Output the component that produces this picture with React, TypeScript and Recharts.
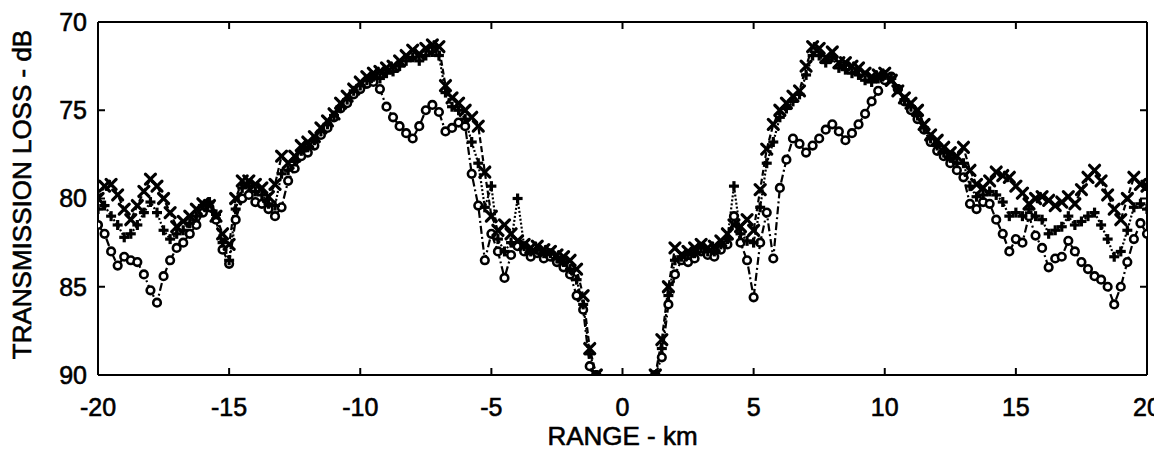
import React from 'react';
import { LineChart, Line, XAxis, YAxis, ReferenceLine } from 'recharts';

// Range grid (km), 0.25 km spacing
const rangeKm = [
  -20, -19.75, -19.5, -19.25, -19, -18.75, -18.5, -18.25, -18, -17.75, -17.5, -17.25,
  -17, -16.75, -16.5, -16.25, -16, -15.75, -15.5, -15.25, -15, -14.75, -14.5, -14.25,
  -14, -13.75, -13.5, -13.25, -13, -12.75, -12.5, -12.25, -12, -11.75, -11.5, -11.25,
  -11, -10.75, -10.5, -10.25, -10, -9.75, -9.5, -9.25, -9, -8.75, -8.5, -8.25,
  -8, -7.75, -7.5, -7.25, -7, -6.75, -6.5, -6.25, -6, -5.75, -5.5, -5.25,
  -5, -4.75, -4.5, -4.25, -4, -3.75, -3.5, -3.25, -3, -2.75, -2.5, -2.25,
  -2, -1.75, -1.5, -1.25, -1, -0.75, -0.5, -0.25, 0, 0.25, 0.5, 0.75,
  1, 1.25, 1.5, 1.75, 2, 2.25, 2.5, 2.75, 3, 3.25, 3.5, 3.75,
  4, 4.25, 4.5, 4.75, 5, 5.25, 5.5, 5.75, 6, 6.25, 6.5, 6.75,
  7, 7.25, 7.5, 7.75, 8, 8.25, 8.5, 8.75, 9, 9.25, 9.5, 9.75,
  10, 10.25, 10.5, 10.75, 11, 11.25, 11.5, 11.75, 12, 12.25, 12.5, 12.75,
  13, 13.25, 13.5, 13.75, 14, 14.25, 14.5, 14.75, 15, 15.25, 15.5, 15.75,
  16, 16.25, 16.5, 16.75, 17, 17.25, 17.5, 17.75, 18, 18.25, 18.5, 18.75,
  19, 19.25, 19.5, 19.75, 20,
];

// Transmission loss (dB), "x" markers
const lossX = [
  80.0, 79.3, 79.2, 79.8, 80.6, 81.2, 80.4, 79.6, 78.9, 79.3, 80.0, 80.8,
  81.6, 81.3, 81.0, 80.6, 80.3, 80.4, 81.0, 82.0, 82.6, 80.0, 79.0, 79.0,
  79.2, 79.4, 79.9, 79.2, 77.6, 78.0, 77.6, 77.0, 76.8, 76.5, 76.0, 75.6,
  75.2, 74.6, 74.2, 73.8, 73.4, 73.1, 72.9, 72.8, 72.6, 72.5, 72.2, 71.9,
  71.6, 71.8, 71.5, 71.3, 71.4, 73.6, 74.3, 74.6, 75.0, 75.4, 75.9, 78.5,
  81.0, 81.8, 81.5, 82.0, 82.4, 82.6, 82.8, 82.7, 82.9, 83.0, 83.2, 83.3,
  83.5, 84.0, 85.5, 88.5, 90, null, null, null, null, null, null, null,
  null, 90, 88.0, 85.0, 82.8, 83.2, 83.0, 82.8, 82.6, 82.8, 82.7, 82.4,
  82.0, 81.5, 81.6, 81.2, 81.8, 79.5, 77.2, 75.8, 75.0, 74.6, 74.2, 73.9,
  72.5, 71.4, 71.5, 72.0, 71.7, 72.3, 72.3, 72.5, 72.6, 72.9, 73.1, 73.0,
  72.9, 73.3, 73.9, 74.3, 74.6, 75.0, 75.8, 76.4, 76.7, 77.1, 77.4, 77.6,
  77.1, 78.4, 79.2, 79.4, 79.0, 78.5, 78.7, 78.8, 79.3, 79.7, 80.3, 80.0,
  79.9, 80.1, 80.4, 80.2, 79.9, 80.3, 79.5, 78.8, 78.4, 79.0, 79.8, 80.6,
  81.2, 80.0, 78.8, 79.2, 79.3,
];

// Transmission loss (dB), "o" markers
const lossO = [
  81.5, 82.0, 83.0, 83.8, 83.3, 83.5, 83.6, 84.3, 85.2, 85.9, 84.4, 83.5,
  82.8, 82.5, 82.0, 81.5, 80.8, 80.5, 81.2, 82.9, 83.7, 81.2, 80.0, 79.8,
  80.2, 80.3, 80.6, 81.0, 80.5, 79.0, 78.3, 77.6, 77.4, 77.0, 76.4, 76.0,
  75.4, 74.9, 74.6, 74.1, 73.8, 73.5, 73.4, 73.8, 74.8, 75.4, 75.9, 76.3,
  76.6, 75.9, 75.0, 74.7, 75.1, 76.2, 76.0, 75.7, 75.9, 78.6, 80.4, 83.5,
  82.0, 83.0, 84.5, 83.2, 82.7, 83.0, 83.3, 83.1, 83.4, 83.3, 83.6, 83.9,
  84.3, 85.5, 86.3, 89.5, 90, null, null, null, null, null, null, null,
  null, 90, 89.0, 86.0, 84.3, 83.5, 83.6, 83.4, 83.0, 83.2, 83.3, 82.9,
  82.6, 81.0, 82.5, 83.5, 85.6, 82.5, 80.8, 83.4, 79.4, 77.8, 76.6, 76.9,
  77.4, 77.0, 76.6, 76.1, 75.8, 76.2, 76.7, 76.3, 75.8, 75.2, 74.5, 73.9,
  73.3, 73.1, 73.8, 74.5, 75.0, 75.5, 76.1, 76.8, 77.3, 77.6, 78.0, 78.4,
  78.8, 80.3, 80.6, 80.2, 80.3, 81.2, 82.0, 83.0, 82.3, 82.5, 81.0, 82.1,
  82.8, 83.9, 83.4, 83.3, 82.4, 83.0, 83.6, 84.0, 84.4, 84.6, 85.0, 86.0,
  85.0, 83.6, 82.3, 81.4, 82.0,
];

// Transmission loss (dB), "+" markers
const lossPlus = [
  80.6, 80.4, 81.0, 81.5, 82.2, 82.0, 81.5, 80.8, 80.2, 80.8, 81.8, 82.3,
  82.0, 81.8, 81.4, 81.0, 80.4, 80.2, 80.9, 82.5, 83.5, 80.6, 79.4, 79.3,
  79.6, 79.8, 80.3, 80.4, 78.6, 78.4, 77.9, 77.3, 77.1, 76.7, 76.2, 75.8,
  75.3, 74.8, 74.4, 73.9, 73.6, 73.3, 73.1, 73.2, 72.9, 72.8, 72.5, 72.2,
  72.0, 72.2, 71.9, 71.7, 71.9, 74.0, 74.8, 75.0, 75.5, 76.8, 78.0, 80.5,
  79.3, 82.3, 83.0, 82.5, 80.0, 82.7, 83.0, 82.9, 83.1, 83.1, 83.4, 83.6,
  84.0, 84.6, 86.0, 88.8, 90, null, null, null, null, null, null, null,
  null, 90, 88.5, 85.5, 83.5, 83.3, 83.2, 83.1, 82.8, 83.0, 83.0, 82.6,
  82.3, 79.3, 82.0, 82.4, 82.5, 80.5, 78.0, 76.8, 75.4, 74.9, 74.5, 74.1,
  73.0, 71.9, 71.9, 72.3, 72.0, 72.6, 72.7, 72.9, 73.0, 73.3, 73.4, 73.2,
  73.0, 73.2, 73.8, 74.4, 74.8, 75.3, 76.0, 76.6, 77.0, 77.4, 77.7, 78.0,
  78.0, 79.3, 79.9, 79.8, 79.6, 79.8, 80.2, 81.0, 80.8, 81.0, 80.6, 81.0,
  81.2, 82.0, 81.8, 81.6, 81.0, 81.5, 81.3, 81.0, 80.8, 81.5, 82.3, 83.3,
  83.0, 81.8, 80.5, 80.3, 80.6,
];

const xTicks = [-20, -15, -10, -5, 0, 5, 10, 15, 20];
const yTicks = [70, 75, 80, 85, 90];

const data = rangeKm.map((r, i) => ({
  range: r,
  lx: lossX[i],
  lo: lossO[i],
  lp: lossPlus[i],
}));

const FONT = '"Liberation Sans", Arial, Helvetica, sans-serif';

// chart layout
const CHART_W = 1154;
const CHART_H = 446;
const MARGIN = { top: 14, right: 15, bottom: 0, left: 0 };
const Y_AXIS_W = 90;
const X_AXIS_H = 79;
const PLOT_W = CHART_W - MARGIN.left - MARGIN.right - Y_AXIS_W;
const PLOT_H = CHART_H - MARGIN.top - MARGIN.bottom - X_AXIS_H;
const X_TICK_MARGIN = 23;
const Y_TICK_MARGIN = 11;
const TICK_LEN = 7;

const TEXT_STYLE = {
  fill: '#000',
  fontSize: 25,
  fontFamily: FONT,
  stroke: '#000',
  strokeWidth: 0.6,
};

// bottom-axis tick: label plus inward tick marks at bottom and top of the frame
const XTick = (props: any) => {
  const { x, y, payload } = props;
  const axisY = y - X_TICK_MARGIN;
  return (
    <g>
      <line x1={x} y1={axisY} x2={x} y2={axisY - TICK_LEN} stroke="#000" strokeWidth={2} />
      <line x1={x} y1={axisY - PLOT_H} x2={x} y2={axisY - PLOT_H + TICK_LEN} stroke="#000" strokeWidth={2} />
      <text x={x} y={y} dy="0.71em" textAnchor="middle" style={TEXT_STYLE}>
        {payload.value}
      </text>
    </g>
  );
};

// left-axis tick: label plus inward tick marks at left and right of the frame
const YTick = (props: any) => {
  const { x, y, payload } = props;
  const axisX = x + Y_TICK_MARGIN;
  return (
    <g>
      <line x1={axisX} y1={y} x2={axisX + TICK_LEN} y2={y} stroke="#000" strokeWidth={2} />
      <line x1={axisX + PLOT_W} y1={y} x2={axisX + PLOT_W - TICK_LEN} y2={y} stroke="#000" strokeWidth={2} />
      <text x={x} y={y} dy="0.355em" textAnchor="end" style={TEXT_STYLE}>
        {payload.value}
      </text>
    </g>
  );
};

const XMark = (props: any) => {
  const { cx, cy, index } = props;
  if (cx == null || cy == null || isNaN(cy)) return <g key={`x${index}`} />;
  const s = 5;
  return (
    <g key={`x${index}`} stroke="#000" strokeWidth={3.2} strokeLinecap="round">
      <line x1={cx - s} y1={cy - s} x2={cx + s} y2={cy + s} />
      <line x1={cx - s} y1={cy + s} x2={cx + s} y2={cy - s} />
    </g>
  );
};

const OMark = (props: any) => {
  const { cx, cy, index } = props;
  if (cx == null || cy == null || isNaN(cy)) return <g key={`o${index}`} />;
  return <circle key={`o${index}`} cx={cx} cy={cy} r={3.8} fill="#fff" stroke="#000" strokeWidth={2.6} />;
};

const PlusMark = (props: any) => {
  const { cx, cy, index } = props;
  if (cx == null || cy == null || isNaN(cy)) return <g key={`p${index}`} />;
  const s = 5;
  return (
    <g key={`p${index}`} stroke="#000" strokeWidth={3.2}>
      <line x1={cx - s} y1={cy} x2={cx + s} y2={cy} />
      <line x1={cx} y1={cy - s} x2={cx} y2={cy + s} />
    </g>
  );
};

export default function App() {
  const titleStyle = { ...TEXT_STYLE, fontSize: 26 };
  const frame = { stroke: '#000', strokeWidth: 2 };
  return (
    <div style={{ width: CHART_W, height: CHART_H, background: '#fff' }}>
      <LineChart width={CHART_W} height={CHART_H} data={data} margin={MARGIN}>
        <XAxis
          dataKey="range"
          type="number"
          domain={[-20, 20]}
          ticks={xTicks}
          allowDataOverflow
          height={X_AXIS_H}
          tickLine={false}
          tickSize={0}
          tickMargin={X_TICK_MARGIN}
          tick={(p: any) => <XTick {...p} />}
          axisLine={frame}
          label={{
            value: 'RANGE - km',
            position: 'insideBottom',
            offset: 9,
            style: titleStyle,
          }}
        />
        <YAxis
          type="number"
          domain={[70, 90]}
          reversed
          ticks={yTicks}
          allowDataOverflow
          width={Y_AXIS_W}
          tickLine={false}
          tickSize={0}
          tickMargin={Y_TICK_MARGIN}
          tick={(p: any) => <YTick {...p} />}
          axisLine={frame}
          label={{
            value: 'TRANSMISSION LOSS - dB',
            angle: -90,
            position: 'center',
            dx: -31,
            dy: -4,
            style: { ...titleStyle, textAnchor: 'middle' },
          }}
        />
        {/* frame top & right */}
        <ReferenceLine y={70} stroke="#000" strokeWidth={2} />
        <ReferenceLine x={20} stroke="#000" strokeWidth={2} />
        <Line
          type="linear"
          dataKey="lo"
          stroke="#000"
          strokeWidth={2.2}
          strokeDasharray="8 3 2 3"
          dot={(p: any) => <OMark {...p} key={`o${p.index}`} />}
          activeDot={false}
          isAnimationActive={false}
        />
        <Line
          type="linear"
          dataKey="lp"
          stroke="#000"
          strokeWidth={2.2}
          strokeDasharray="2 2"
          dot={(p: any) => <PlusMark {...p} key={`p${p.index}`} />}
          activeDot={false}
          isAnimationActive={false}
        />
        <Line
          type="linear"
          dataKey="lx"
          stroke="#000"
          strokeWidth={2.2}
          strokeDasharray="6 3"
          dot={(p: any) => <XMark {...p} key={`x${p.index}`} />}
          activeDot={false}
          isAnimationActive={false}
        />
      </LineChart>
    </div>
  );
}
